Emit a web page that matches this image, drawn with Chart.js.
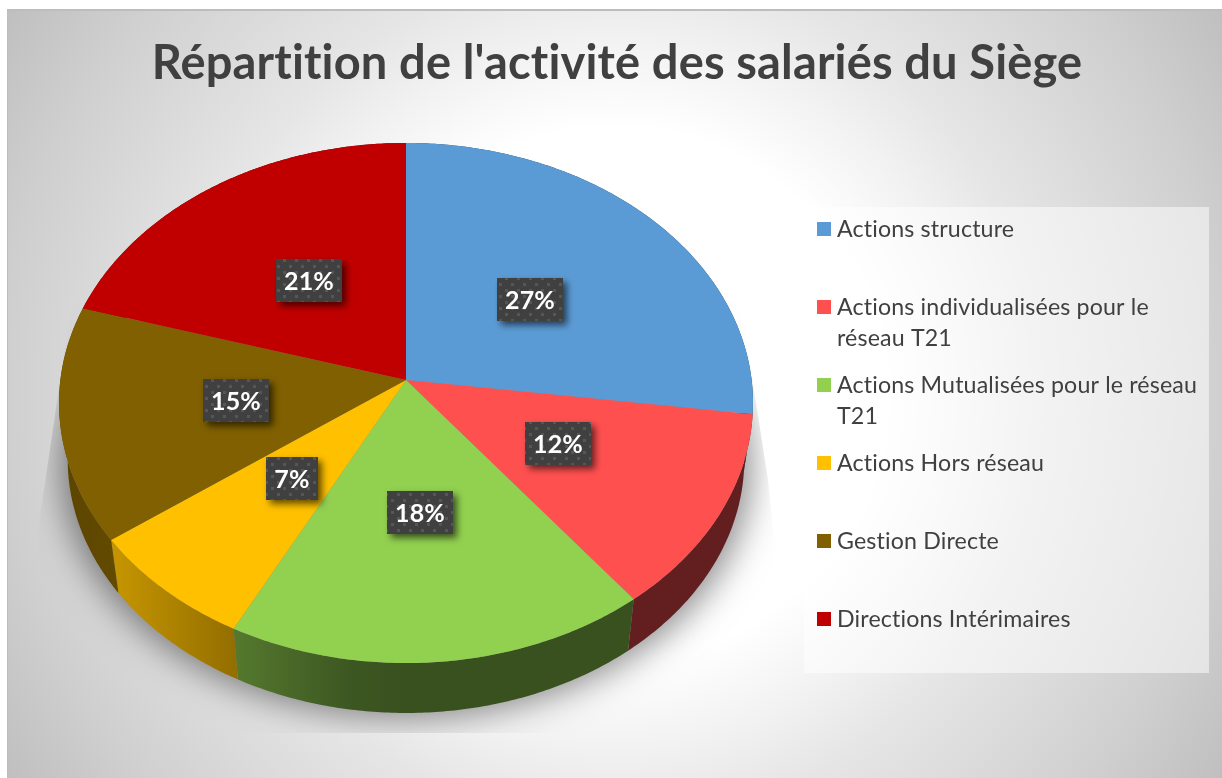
<!DOCTYPE html>
<html>
<head>
<meta charset="utf-8">
<title>Répartition de l'activité</title>
<script src="https://cdn.jsdelivr.net/npm/chart.js@4"></script>
<style>
    html, body { margin: 0; padding: 0; background: #fff; overflow: hidden; }
    canvas { display: block; }
</style>
</head>
<body>
<canvas id="activitePieChart" width="1222" height="778"></canvas>
<script>
//data
const categories = [
    'Actions structure',
    'Actions individualisées pour le réseau T21',
    'Actions Mutualisées pour le réseau T21',
    'Actions Hors réseau',
    'Gestion Directe',
    'Directions Intérimaires'
];
const activityValues = [27.1, 12.4, 18.1, 7.4, 14.6, 20.4];
const percentLabels = ['27%', '12%', '18%', '7%', '15%', '21%'];
const sliceColors = ['#5b9bd5', '#ff5050', '#92d050', '#ffc000', '#806000', '#c00000'];

//perspective of the pie plane
const view = { cx: 406, cy: 380, a: 345.6, b: 258, p: 0.0885, depth: 57, shrink: 0.975 };
//small hand placed shifts of the data labels
const labelShifts = [[-2, 2], [-1, -2], [-2, -1.5], [3, -3], [2, -1.5], [3, 0]];

function project(angle, r) {
    const u = Math.cos(angle) * r, v = Math.sin(angle) * r;
    const d = 1 - view.p * v;
    return { x: view.a * u / d, y: view.b * v / d };
}
function topPoint(angle, r) {
    const q = project(angle, r);
    return { x: view.cx + q.x, y: view.cy + q.y };
}
function bottomPoint(angle) {
    const q = project(angle, 1);
    return { x: view.cx + q.x * view.shrink, y: view.cy + q.y * view.shrink + view.depth };
}

function shade(hex, f) {
    const n = parseInt(hex.slice(1), 16);
    return 'rgb(' + Math.round((n >> 16) * f) + ',' + Math.round(((n >> 8) & 255) * f) + ',' + Math.round((n & 255) * f) + ')';
}

function arcSteps(start, end) {
    const pts = [];
    const n = Math.max(2, Math.ceil((end - start) / 0.01));
    for (let i = 0; i <= n; i++) pts.push(start + (end - start) * i / n);
    return pts;
}

function dotPattern(ctx) {
    const c = document.createElement('canvas');
    c.width = 12; c.height = 12;
    const g = c.getContext('2d');
    g.fillStyle = '#404040';
    g.fillRect(0, 0, 12, 12);
    g.fillStyle = '#565656';
    g.fillRect(1, 1, 3, 3);
    g.fillRect(7, 7, 3, 3);
    return ctx.createPattern(c, 'repeat');
}

//background, floor shadow, walls and top face
const pie3dPlugin = {
    id: 'pie3d',
    beforeDraw(chart) {
        const ctx = chart.ctx;
        const bg = ctx.createRadialGradient(615, 394, 0, 615, 394, 720);
        bg.addColorStop(0, '#ffffff');
        bg.addColorStop(0.37, '#ffffff');
        bg.addColorStop(0.49, '#f2f2f2');
        bg.addColorStop(0.59, '#e6e6e6');
        bg.addColorStop(0.85, '#cfcfcf');
        bg.addColorStop(1, '#bfbfbf');
        ctx.fillStyle = '#ffffff';
        ctx.fillRect(0, 0, 1222, 778);
        ctx.fillStyle = '#bdbdbd';
        ctx.fillRect(7, 9, 1215, 769);
        ctx.fillStyle = bg;
        ctx.fillRect(8, 11, 1214, 767);
        //no "ti" ligatures, the original font has none
        ctx.letterSpacing = '0.15px';
    },
    beforeDatasetsDraw(chart) {
        const ctx = chart.ctx;
        const arcs = chart.getDatasetMeta(0).data;

        //floor shadow, cut off by its box like in the original
        ctx.save();
        ctx.beginPath();
        [[72, 300], [740, 300], [768, 480], [775, 550], [775, 733], [38, 733], [38, 530]].forEach(function (q, i) {
            if (i === 0) ctx.moveTo(q[0], q[1]); else ctx.lineTo(q[0], q[1]);
        });
        ctx.closePath();
        ctx.clip();
        //the shape itself sits off the canvas, only its shadow lands on the floor
        ctx.shadowColor = 'rgba(0,0,0,0.45)';
        ctx.shadowBlur = 34;
        ctx.shadowOffsetX = 2000;
        ctx.fillStyle = '#000';
        ctx.beginPath();
        arcSteps(0, Math.PI * 2).forEach(function (t) {
            const q = bottomPoint(t);
            ctx.lineTo(view.cx - 2000 + (q.x - view.cx) * 1.02, q.y + 5);
        });
        ctx.closePath();
        ctx.fill();
        ctx.restore();

        //walls
        arcs.forEach(function (arc, i) {
            const grad = ctx.createLinearGradient(60, 0, 400, 0);
            const base = sliceColors[i];
            grad.addColorStop(0, shade(base, 0.72));
            grad.addColorStop(0.17, shade(base, 0.77));
            grad.addColorStop(0.51, shade(base, 0.58));
            grad.addColorStop(0.85, shade(base, 0.42));
            grad.addColorStop(1, shade(base, 0.39));
            ctx.fillStyle = grad;
            const steps = arcSteps(arc.startAngle, arc.endAngle);
            ctx.beginPath();
            steps.forEach(function (t) {
                const q = topPoint(t, 1);
                ctx.lineTo(q.x, q.y);
            });
            steps.slice().reverse().forEach(function (t) {
                const q = bottomPoint(t);
                ctx.lineTo(q.x, q.y);
            });
            ctx.closePath();
            ctx.fill();
        });

        //top face
        arcs.forEach(function (arc, i) {
            ctx.fillStyle = sliceColors[i];
            ctx.beginPath();
            ctx.moveTo(view.cx, view.cy);
            arcSteps(arc.startAngle, arc.endAngle).forEach(function (t) {
                const q = topPoint(t, 1);
                ctx.lineTo(q.x, q.y);
            });
            ctx.closePath();
            ctx.fill();
        });
        return false;
    },
    afterDraw(chart) {
        const ctx = chart.ctx;
        const arcs = chart.getDatasetMeta(0).data;

        //data labels
        const pattern = dotPattern(ctx);
        arcs.forEach(function (arc, i) {
            const c = topPoint((arc.startAngle + arc.endAngle) / 2, 0.5);
            const w = percentLabels[i].length > 2 ? 66 : 52;
            const h = 43;
            const left = Math.round(c.x + labelShifts[i][0] - w / 2);
            const top = Math.round(c.y + labelShifts[i][1] - h / 2);
            ctx.save();
            ctx.shadowColor = 'rgba(0,0,0,0.6)';
            ctx.shadowBlur = 7;
            ctx.shadowOffsetX = 4;
            ctx.shadowOffsetY = 4;
            ctx.fillStyle = pattern;
            ctx.fillRect(left, top, w, h);
            ctx.restore();
            ctx.fillStyle = '#ffffff';
            ctx.font = 'bold 25px Lato';
            ctx.textAlign = 'center';
            ctx.textBaseline = 'middle';
            ctx.fillText(percentLabels[i], left + w / 2, top + h / 2 + 1);
        });

        //legend panel
        ctx.fillStyle = 'rgba(255,255,255,0.5)';
        ctx.fillRect(804, 207, 405, 466);
        ctx.font = '23.2px Lato';
        ctx.textAlign = 'left';
        ctx.textBaseline = 'middle';
        categories.forEach(function (name, i) {
            const y = 229 + i * 78;
            ctx.fillStyle = sliceColors[i];
            ctx.fillRect(817, y - 7, 14, 14);
            ctx.fillStyle = '#404040';
            //wrap like the legend box does
            let line = '', row = 0;
            name.split(' ').forEach(function (word) {
                const next = line ? line + ' ' + word : word;
                if (ctx.measureText(next).width > 364) {
                    ctx.fillText(line, 837, y + 1 + row * 31);
                    row++;
                    line = word;
                } else {
                    line = next;
                }
            });
            ctx.fillText(line, 837, y + 1 + row * 31);
        });
    }
};

//config block
const activitePieChartConfig = {
    type: 'pie',
    data: {
        labels: categories,
        datasets: [{
            data: activityValues,
            backgroundColor: sliceColors,
            borderWidth: 0
        }]
    },
    options: {
        responsive: false,
        animation: false,
        layout: { padding: { left: 12 } },
        plugins: {
            legend: { display: false },
            tooltip: { enabled: false },
            title: {
                display: true,
                text: "Répartition de l'activité des salariés du Siège",
                color: '#404040',
                font: { family: 'Lato', size: 47, weight: 'bold' },
                padding: { top: 36, bottom: 10 }
            }
        }
    },
    plugins: [pie3dPlugin]
};

//render block
const activitePieChart = new Chart(document.getElementById('activitePieChart'), activitePieChartConfig);
</script>
</body>
</html>
